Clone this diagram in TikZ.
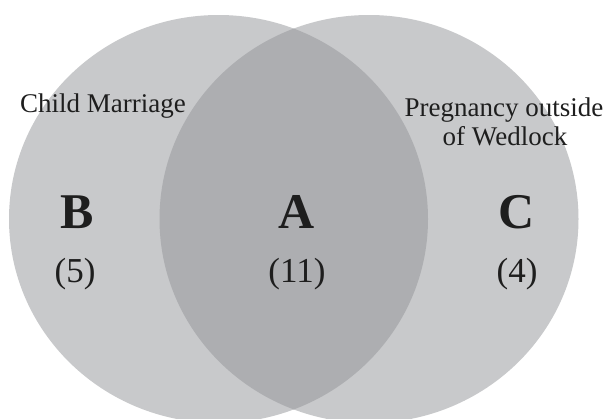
\documentclass[tikz,border=0pt]{standalone}
\usepackage{fontspec}
\setmainfont{Liberation Serif}
\definecolor{lightc}{RGB}{200,201,203}
\definecolor{darkc}{RGB}{173,174,177}
\definecolor{txt}{RGB}{30,30,30}
\tikzset{
  lbl/.style={anchor=base, text=txt, inner sep=0pt, font=\fontsize{27}{29}\selectfont},
  big/.style={anchor=base, text=txt, inner sep=0pt, font=\fontsize{50}{52}\selectfont\bfseries},
  num/.style={anchor=base, text=txt, inner sep=0pt, font=\fontsize{35}{37}\selectfont}
}
\begin{document}
\begin{tikzpicture}[x=1pt,y=-1pt]
\useasboundingbox (0,0) rectangle (607,418);
\fill[white] (0,0) rectangle (607,418);
\fill[lightc] (218.5,219) ellipse [x radius=209.5, y radius=204];
\fill[lightc] (369,219) ellipse [x radius=209.5, y radius=204];
\begin{scope}
\clip (218.5,219) ellipse [x radius=209.5, y radius=204];
\fill[darkc] (369,219) ellipse [x radius=209.5, y radius=204];
\end{scope}
\node[lbl] (cm) at (103,112) {Child Marriage};
\node[lbl] (po) at (504,116) {Pregnancy outside};
\node[lbl] (wl) at (505,145) {of Wedlock};
\node[big] (b) at (77,228) {B};
\node[big] (a) at (297,228) {A};
\node[big] (c) at (517,228) {C};
\node[num] (n5) at (75,282) {(5)};
\node[num] (n11) at (297,282) {(11)};
\node[num] (n4) at (517,282) {(4)};
\end{tikzpicture}
\end{document}
